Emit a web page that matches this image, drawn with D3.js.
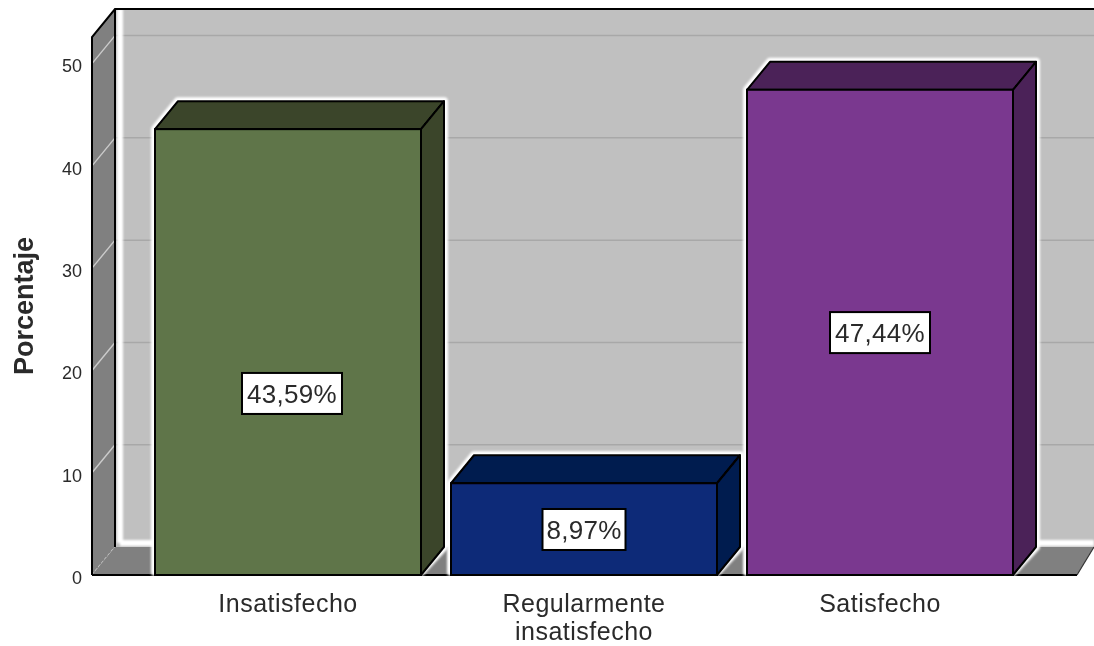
<!DOCTYPE html>
<html><head><meta charset="utf-8">
<script src="https://cdn.jsdelivr.net/npm/d3@7/dist/d3.min.js"></script>
<style>html,body{margin:0;background:#fff}svg{display:block}text{font-family:"Liberation Sans",Arial,sans-serif;fill:#2a2a2a}</style>
</head><body><svg id="c" width="1094" height="646"></svg>
<script>
const categories = ["Insatisfecho", "Regularmente|insatisfecho", "Satisfecho"];
const values = [43.59, 8.97, 47.44];
const valueLabels = ["43,59%", "8,97%", "47,44%"];
const labelLevels = [17.75, 4.45, 23.7];
const frontColors = ["#5f7549", "#0c2a78", "#7a378f"];
const darkColors = ["#3a4529", "#061a50", "#4c2358"];
const ticks = [0, 10, 20, 30, 40, 50];
const yTitle = "Porcentaje";

const W = 1094, H = 646, dx = 23, dy = -28;
const svg = d3.select("#c");
const defs = svg.append("defs");
function blur(id, s){
  defs.append("filter").attr("id",id).attr("filterUnits","userSpaceOnUse")
    .attr("x",0).attr("y",0).attr("width",W).attr("height",H)
    .append("feGaussianBlur").attr("stdDeviation",s);
}
blur("soft",0.45); blur("glow",1.3);
const g = svg.append("g").attr("filter","url(#soft)");

const y = d3.scaleLinear().domain([0,52.6]).range([575,37]);
const x = d3.scaleBand().domain(categories).range([140,1028]).paddingInner(30/296).paddingOuter(15/296);
const leftX = 92, rightX = 1077;
const topY = y.range()[1], base = y.range()[0];

// back wall
g.append("rect").attr("x",leftX+dx).attr("y",topY+dy).attr("width",W-leftX-dx).attr("height",base-topY)
 .attr("fill","#c0c0c0");
// grid
g.selectAll("line.g").data(ticks.slice(1)).join("line")
 .attr("x1",leftX+dx).attr("x2",W).attr("y1",d=>y(d)+dy).attr("y2",d=>y(d)+dy)
 .attr("stroke","#a8a8a8").attr("stroke-width",1.5);
// white edge of wall
g.append("path").attr("d",`M${leftX+dx+5},${base+dy-4}V${topY+dy}M${leftX+dx+5},${base+dy-4}H${W}`)
 .attr("stroke","#fff").attr("stroke-width",6).attr("fill","none").attr("filter","url(#glow)");
// left wall
g.append("path").attr("d",`M${leftX},${topY}L${leftX+dx},${topY+dy}V${base+dy}L${leftX},${base}Z`).attr("fill","#808080");
g.selectAll("line.lw").data(ticks).join("line")
 .attr("x1",leftX).attr("x2",leftX+dx).attr("y1",d=>y(d)).attr("y2",d=>y(d)+dy)
 .attr("stroke","#cbcbcb").attr("stroke-width",1.4)
 .attr("stroke-dasharray",d=>d===0?"3 2":null);
// floor
g.append("path").attr("d",`M${leftX},${base}L${leftX+dx},${base+dy}H${W}L${rightX},${base}Z`).attr("fill","#808080");
// frame lines
g.append("path").attr("d",`M${leftX},${base}V${topY}L${leftX+dx},${topY+dy}H${W}M${leftX+dx},${topY+dy}V${base+dy}`)
 .attr("stroke","#000").attr("stroke-width",2).attr("fill","none");
g.append("line").attr("x1",leftX).attr("x2",rightX).attr("y1",base).attr("y2",base).attr("stroke","#000").attr("stroke-width",2);
g.append("line").attr("x1",rightX).attr("x2",W).attr("y1",base).attr("y2",base+dy).attr("stroke","#333").attr("stroke-width",1.2);

// bars
const bars = g.selectAll("g.bar").data(categories.map((c,i)=>({c,i,v:values[i]}))).join("g").attr("class","bar");
bars.append("path") // white halo
 .attr("d",d=>{const a=x(d.c),b=a+x.bandwidth(),t=y(d.v);return `M${a},${base-3}V${t}L${a+dx},${t+dy}H${b+dx}V${base+dy}L${b},${base-3}Z`;})
 .attr("fill","#fff").attr("stroke","#fff").attr("stroke-width",8).attr("stroke-linejoin","round").attr("filter","url(#glow)");
bars.append("path") // top
 .attr("d",d=>{const a=x(d.c),b=a+x.bandwidth(),t=y(d.v);return `M${a},${t}L${a+dx},${t+dy}H${b+dx}L${b},${t}Z`;})
 .attr("fill",d=>darkColors[d.i]).attr("stroke","#000").attr("stroke-width",2).attr("stroke-linejoin","round");
bars.append("path") // side
 .attr("d",d=>{const b=x(d.c)+x.bandwidth(),t=y(d.v);return `M${b},${t}L${b+dx},${t+dy}V${base+dy}L${b},${base}Z`;})
 .attr("fill",d=>darkColors[d.i]).attr("stroke","#000").attr("stroke-width",2).attr("stroke-linejoin","round");
bars.append("rect") // front
 .attr("x",d=>x(d.c)).attr("y",d=>y(d.v)).attr("width",x.bandwidth()).attr("height",d=>base-y(d.v))
 .attr("fill",d=>frontColors[d.i]).attr("stroke","#000").attr("stroke-width",2);
// value labels
const lab = bars.append("g").attr("transform",d=>`translate(${x(d.c)+x.bandwidth()/2+(d.i===0?4:0)},${y(labelLevels[d.i])})`);
lab.append("rect").attr("y",-20.5).attr("height",41)
 .attr("fill","#fff").attr("stroke","#000").attr("stroke-width",2)
 .attr("width",d=>d.i===1?83:100).attr("x",d=>d.i===1?-41.5:-50);
lab.append("text").attr("text-anchor","middle").attr("y",9.5).attr("font-size",26).attr("letter-spacing",0.3).text(d=>valueLabels[d.i]);

// axes
const ax = d3.axisLeft(y).tickValues(ticks).tickSize(0).tickPadding(0);
const axG = g.append("g").attr("transform","translate(82,2)").call(ax);
axG.select(".domain").remove();
axG.selectAll("text").attr("font-size",18).attr("font-family",'"Liberation Sans"').attr("fill","#2a2a2a").attr("dy","0.35em");

const xAx = d3.axisBottom(x).tickSize(0).tickFormat("");
const xG = g.append("g").attr("transform",`translate(0,${base})`).call(xAx);
xG.select(".domain").remove();
xG.selectAll(".tick").each(function(c){
  const t = d3.select(this).append("text").attr("text-anchor","middle").attr("font-size",25).attr("letter-spacing",0.5);
  c.split("|").forEach((s,i)=>t.append("tspan").attr("x",0).attr("y",37+i*28).text(s));
});
g.append("text").attr("transform","translate(33,306) rotate(-90)").attr("text-anchor","middle")
 .attr("font-size",27).attr("font-weight","bold").text(yTitle);
</script></body></html>
